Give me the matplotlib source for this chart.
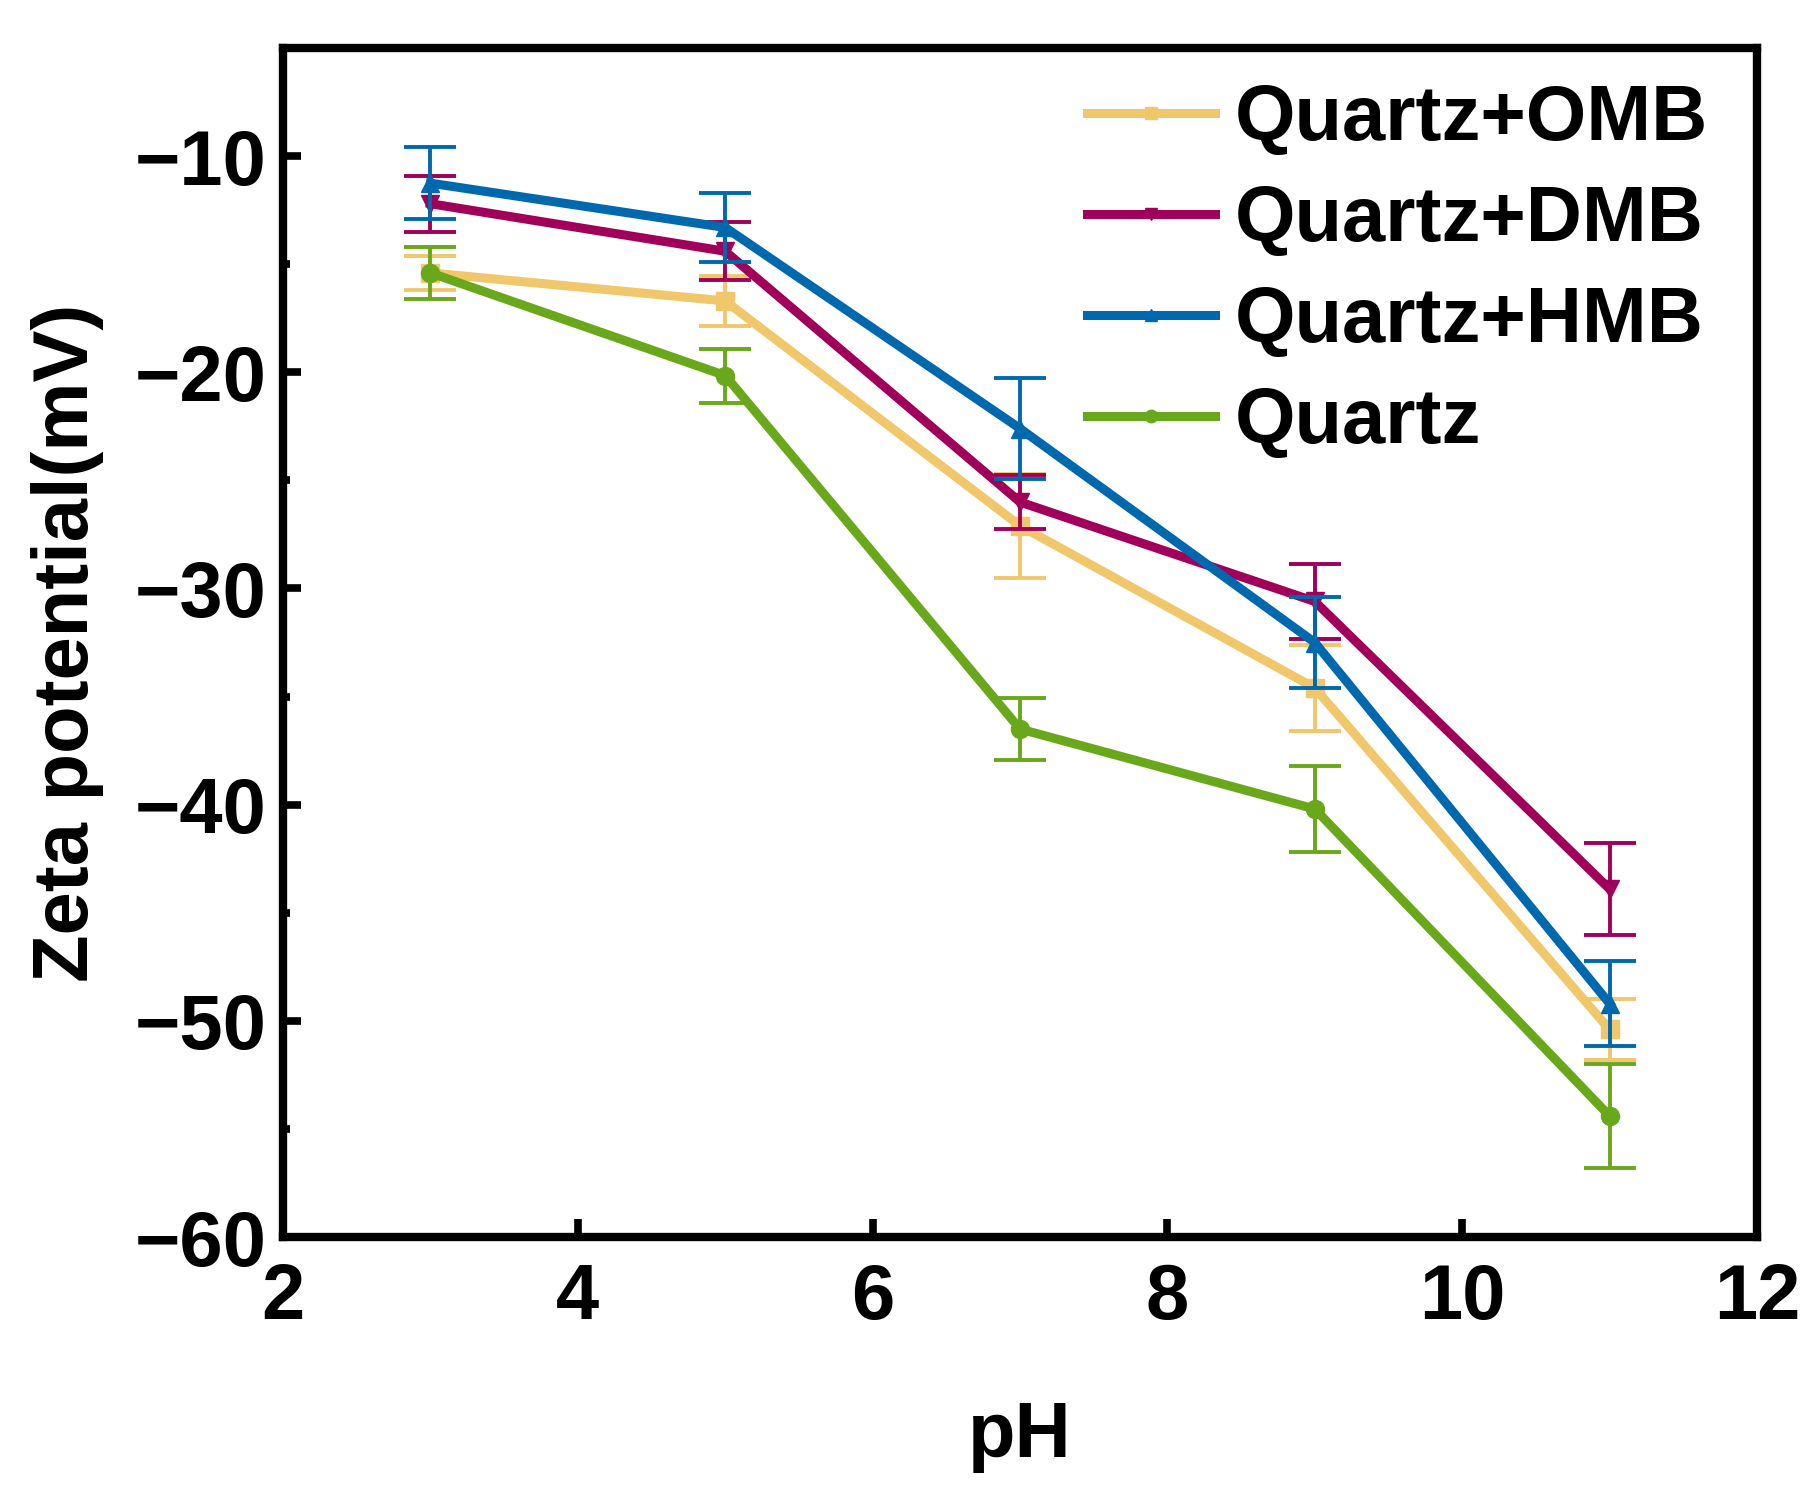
import matplotlib
matplotlib.use("Agg")
import matplotlib.pyplot as plt
import matplotlib.lines as mlines
from matplotlib.ticker import MultipleLocator

plt.rcParams['font.family'] = ['Liberation Sans', 'DejaVu Sans']
plt.rcParams['font.weight'] = 'bold'

ph = [3, 5, 7, 9, 11]
labels = ["Quartz+OMB", "Quartz+DMB", "Quartz+HMB", "Quartz"]
omb = [-15.4, -16.7, -27.1, -34.6, -50.4]
omb_err = [0.8, 1.15, 2.4, 2.0, 1.4]
dmb = [-12.2, -14.4, -26.0, -30.6, -43.9]
dmb_err = [1.3, 1.35, 1.25, 1.75, 2.15]
hmb = [-11.25, -13.3, -22.6, -32.5, -49.2]
hmb_err = [1.65, 1.6, 2.35, 2.1, 1.95]
quartz = [-15.4, -20.15, -36.5, -40.2, -54.4]
quartz_err = [1.2, 1.25, 1.45, 2.0, 2.4]

colors = ["#F0C76A", "#A0005A", "#0068AD", "#6AA81B"]
markers = ["s", "v", "^", "o"]
series = [(omb, omb_err), (dmb, dmb_err), (hmb, hmb_err), (quartz, quartz_err)]

fig = plt.figure(figsize=(18.13, 14.87), dpi=100)
ax = fig.add_axes([0.1561, 0.1681, 0.9691 - 0.1561, 0.9677 - 0.1681])

order = [3, 0, 1, 2]
for i in order:
    y, e = series[i]
    ax.errorbar(ph, y, yerr=e, color=colors[i], marker=markers[i], markersize=13,
                lw=6.5, elinewidth=2.8, capsize=19, capthick=2.8, label=labels[i],
                zorder=3 + i)

ax.set_xlim(2, 12)
ax.set_ylim(-60, -5)
ax.xaxis.set_major_locator(MultipleLocator(2))
ax.yaxis.set_major_locator(MultipleLocator(10))
ax.yaxis.set_minor_locator(MultipleLocator(5))
ax.tick_params(axis='both', which='major', direction='in', length=13, width=5.5,
               labelsize=56)
ax.tick_params(axis='x', which='major', pad=18)
ax.tick_params(axis='y', which='major', pad=12)
ax.tick_params(axis='y', which='minor', direction='in', length=5, width=5.5)
for s in ax.spines.values():
    s.set_linewidth(6)
for lab in ax.get_xticklabels() + ax.get_yticklabels():
    lab.set_fontweight('bold')

ax.set_xlabel("pH", fontsize=56, fontweight='bold', labelpad=47)
ax.set_ylabel("Zeta potential(mV)", fontsize=56, fontweight='bold', labelpad=22)

leg_handles = []
for i in range(4):
    leg_handles.append(mlines.Line2D([], [], color=colors[i], marker=markers[i],
                                     markersize=9, lw=6.5))
ax.legend(leg_handles, labels, loc='upper right', bbox_to_anchor=(0.9906, 1.0),
          frameon=False, handlelength=1.65, handletextpad=0.25, labelspacing=0.36,
          borderaxespad=0.05, prop={'weight': 'bold', 'size': 56})

fig.savefig("out.png", dpi=100)
